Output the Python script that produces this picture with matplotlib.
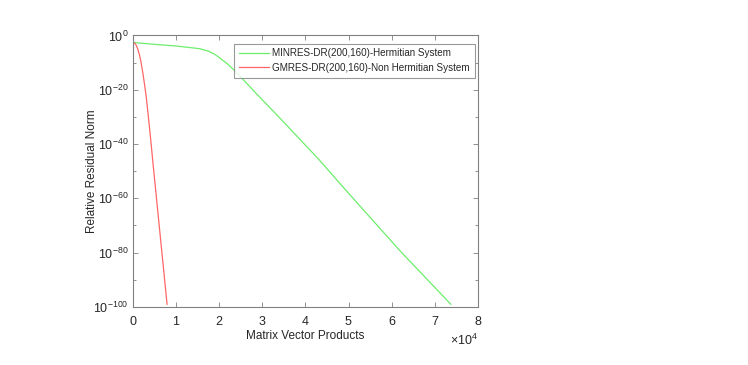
"""
Relative residual norm vs. matrix vector products (MINRES-DR vs GMRES-DR)
"""

import numpy as np
from matplotlib import pyplot as plt
from matplotlib.ticker import NullFormatter

# MINRES-DR(200,160), Hermitian system
minres_mvp = [0, 5000, 10000, 12800, 15500, 17500, 19000, 20200, 22000,
              24100, 28700, 34100, 43000, 48800, 61900, 73700]
minres_log10 = [-2.6, -3.3, -3.9, -4.4, -4.9, -5.8, -7.0, -8.4, -10.6,
                -13.8, -21.6, -30.5, -45.5, -56.0, -79.3, -99.0]

# GMRES-DR(200,160), non-Hermitian system
gmres_mvp = [0, 400, 770, 1160, 1500, 1800, 2300, 2700, 3100, 3900, 4600, 7900]
gmres_log10 = [-2.5, -2.9, -3.7, -5.3, -7.2, -9.3, -14.0, -18.3, -23.0,
               -35.0, -46.5, -99.0]

plt.rcParams['font.family'] = ['Liberation Sans', 'DejaVu Sans']
plt.rcParams['mathtext.fontset'] = 'custom'
plt.rcParams['mathtext.rm'] = 'Liberation Sans'

siva = '#808080'
besedilo = '#262626'

fig = plt.figure(figsize=(7.48, 3.65), dpi=100)
ax = fig.add_axes([0.1778, 0.159, 0.639 - 0.1778, 0.903 - 0.159])

ax.semilogy(minres_mvp, 10.0 ** np.array(minres_log10), color='#6cee6c',
            linewidth=0.9, label='MINRES-DR(200,160)-Hermitian System')
ax.semilogy(gmres_mvp, 10.0 ** np.array(gmres_log10), color='#ff6666',
            linewidth=0.9, label='GMRES-DR(200,160)-Non Hermitian System')

ax.set_xlim(0, 80000)
ax.set_ylim(1e-100, 1e0)
ax.set_xticks(np.arange(0, 80001, 10000))
ax.set_yticks([10.0 ** k for k in range(-100, 1, 20)])
ax.set_yticks([10.0 ** k for k in range(-90, 0, 20)], minor=True)
ax.yaxis.set_minor_formatter(NullFormatter())
ax.ticklabel_format(style='sci', axis='x', scilimits=(0, 0), useMathText=True)

ax.tick_params(which='both', direction='in', top=True, right=True,
               color=siva, labelcolor=besedilo, labelsize=9, width=0.6)
ax.tick_params(which='major', length=3.5, pad=3)
ax.tick_params(which='minor', length=2)
ax.tick_params(axis='x', which='major', pad=6)
for s in ax.spines.values():
    s.set_color(siva)
    s.set_linewidth(0.8)
ax.xaxis.get_offset_text().set_color(besedilo)
ax.xaxis.get_offset_text().set_fontsize(9)

ax.set_xlabel('Matrix Vector Products', fontsize=8.5, color=besedilo)
ax.set_ylabel('Relative Residual Norm', fontsize=8.5, color=besedilo)
ax.xaxis.set_label_coords(0.5, -0.085)
ax.yaxis.set_label_coords(-0.10, 0.5)

leg = ax.legend(loc='upper right', fontsize=7.1, frameon=True, fancybox=False,
                bbox_to_anchor=(0.99, 0.97), borderaxespad=0,
                handlelength=3.0, borderpad=0.5, labelspacing=0.45,
                handletextpad=0.35)
leg.get_frame().set_edgecolor(siva)
leg.get_frame().set_linewidth(0.8)
for t in leg.get_texts():
    t.set_color(besedilo)

plt.savefig('out.png', dpi=100)
